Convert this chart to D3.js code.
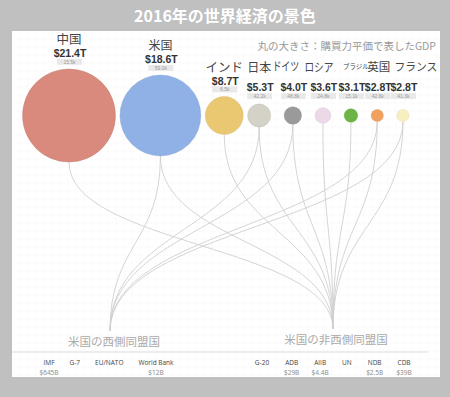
<!DOCTYPE html>
<html><head><meta charset="utf-8">
<script src="https://cdn.jsdelivr.net/npm/d3@7"></script>
<style>body{margin:0;background:#c0c0c0;}svg{display:block;}</style>
</head><body>
<script>
// ---- data ----
const countries = ["中国","米国","インド","日本","ドイツ","ロシア","ブラジル","英国","フランス"];
const gdpT = [21.4,18.6,8.7,5.3,4.0,3.6,3.1,2.8,2.8];
const perCapita = ["15.5k","59.0k","6.5k","42.2k","48.8k","24.8k","15.1k","42.6k","41.3k"];
const westernAlly = [false,true,false,true,true,false,false,true,true];
const nonWesternAlly = [true,true,true,true,true,true,true,true,true];
const groupLabels = ["米国の西側同盟国","米国の非西側同盟国"];
const westOrgs = ["IMF","G-7","EU/NATO","World Bank"];
const westOrgValues = ["$645B","","","$12B"];
const nonWestOrgs = ["G-20","ADB","AIIB","UN","NDB","CDB"];
const nonWestOrgValues = ["","$29B","$4.4B","","$2.5B","$39B"];
const colors = ["#d98a7d","#8fb1e6","#eac872","#d4d1c6","#9a9a9a","#edd8e8","#6cb544","#f2a05e","#f8efbf"];

// ---- styles (not data) ----
const nameStyle = {
  "中国":{size:12.5,dx:0}, "米国":{size:12,dx:0}, "インド":{size:12.5,dx:0},
  "日本":{size:12,dx:0}, "ドイツ":{size:12,dx:-7,len:27}, "ロシア":{size:12,dx:-4,len:29},
  "ブラジル":{size:6.5,dx:5}, "英国":{size:11.5,dx:1.5}, "フランス":{size:11.5,dx:13,len:43}
};
const W = 450, H = 397;
const JP = "'Noto Sans CJK JP','Noto Sans',sans-serif";
const LAT = "'Open Sans','Noto Sans',sans-serif";

const svg = d3.select("body").append("svg").attr("width",W).attr("height",H);
svg.append("rect").attr("width",W).attr("height",H).attr("fill","#c0c0c0");
svg.append("text").attr("x",225).attr("y",15).attr("text-anchor","middle")
  .attr("dominant-baseline","central").attr("fill","#fff")
  .style("font-family",JP).style("font-weight","bold").style("font-size","16px")
  .text("2016年の世界経済の景色");

// panel
const panel = {x:12,y:31,w:428,h:346};
svg.append("rect").attr("x",panel.x).attr("y",panel.y).attr("width",panel.w).attr("height",panel.h).attr("fill","#fff");
const grid = svg.append("g").attr("stroke","#f7f7f7").attr("stroke-width",0.5);
d3.range(panel.x+8, panel.x+panel.w, 8).forEach(x=>grid.append("line").attr("x1",x).attr("x2",x).attr("y1",panel.y).attr("y2",panel.y+panel.h));
d3.range(panel.y+8, panel.y+panel.h, 8).forEach(y=>grid.append("line").attr("y1",y).attr("y2",y).attr("x1",panel.x).attr("x2",panel.x+panel.w));

svg.append("text").attr("x",436).attr("y",45).attr("text-anchor","end").attr("dominant-baseline","central")
  .attr("fill","#999").style("font-family",JP).style("font-size","10.5px")
  .text("丸の大きさ：購買力平価で表したGDP");

// layout
const r = d3.scaleLinear().domain([0, d3.max(gdpT)]).range([0, 46.5]);
const cy = 115.5;
const nodes = countries.map((c,i)=>({name:c, gdp:gdpT[i], pc:perCapita[i], color:colors[i], west:westernAlly[i], nonwest:nonWesternAlly[i], r:r(gdpT[i])}));
nodes.forEach((d,i)=>{
  if(i===0) d.x = 22.5 + d.r;
  else { const p = nodes[i-1]; d.x = p.x + p.r + d.r + (d.r < 10 ? 13.5 : 4.5); }
});

const hubs = [{x:110,y:331},{x:333,y:329}];
const link = d3.linkVertical().x(d=>d.x).y(d=>d.y);
const links = [];
nodes.forEach(d=>{
  if(d.west) links.push({source:{x:d.x,y:cy+d.r}, target:hubs[0]});
  if(d.nonwest) links.push({source:{x:d.x,y:cy+d.r}, target:hubs[1]});
});
svg.append("g").selectAll("path").data(links).join("path")
  .attr("d",link).attr("fill","none").attr("stroke","#cfcfcf").attr("stroke-width",0.9);

svg.append("g").selectAll("circle").data(nodes).join("circle")
  .attr("cx",d=>d.x).attr("cy",cy).attr("r",d=>d.r).attr("fill",d=>d.color)
  .attr("stroke",d=>d3.color(d.color).darker(0.3)).attr("stroke-width",0.4);

// labels
const lab = svg.append("g").selectAll("g").data(nodes).join("g");
nodes.forEach(d=>{ d.vy = Math.min(cy - d.r - 16, 87.3); d.ny = Math.min(d.vy - 14.5, 66); });
lab.append("text")
  .attr("text-anchor","middle").attr("dominant-baseline","central")
  .attr("fill","#444").style("font-family",JP).style("font-size",d=>nameStyle[d.name].size+"px")
  .text(d=>d.name)
  .each(function(d){
    const st = nameStyle[d.name];
    const w = this.getComputedTextLength();
    const sx = st.len ? st.len / w : 1;
    d3.select(this).attr("transform",`translate(${d.x + st.dx},${d.ny}) scale(${sx},1)`);
  });
lab.append("text").attr("x",d=>d.x + 1).attr("y",d=>d.vy)
  .attr("text-anchor","middle").attr("dominant-baseline","central")
  .attr("fill","#333").style("font-family","'Liberation Sans',Arial,sans-serif").style("font-weight","bold").style("font-size","10.5px")
  .text(d=>"$"+d3.format(".1f")(d.gdp)+"T");
lab.append("rect").attr("x",d=>d.x-12).attr("y",d=>d.vy+5.8).attr("width",25).attr("height",6).attr("fill","#e9e9e9");
lab.append("text").attr("x",d=>d.x+0.5).attr("y",d=>d.vy+8.9)
  .attr("text-anchor","middle").attr("dominant-baseline","central")
  .attr("fill","#999").style("font-family","'Liberation Sans',Arial,sans-serif").style("font-size","5px")
  .text(d=>d.pc);

// group labels
svg.append("text").attr("x",114).attr("y",341).attr("text-anchor","middle").attr("dominant-baseline","central")
  .attr("fill","#aaa").style("font-family",JP).style("font-size","11.5px").text(groupLabels[0]);
svg.append("text").attr("x",336).attr("y",338.5).attr("text-anchor","middle").attr("dominant-baseline","central")
  .attr("fill","#aaa").style("font-family",JP).style("font-size","11.5px").text(groupLabels[1]);

svg.append("line").attr("x1",12).attr("x2",428).attr("y1",352).attr("y2",352).attr("stroke","#ddd").attr("stroke-width",1);

// organisations: flow layout from a start centre with a constant gap between labels
function orgs(names, vals, startX, gapPx){
  const g = svg.append("g");
  let prevRight = null;
  names.forEach((n,i)=>{
    const t = g.append("text").attr("y",362).attr("text-anchor","middle").attr("dominant-baseline","central")
      .attr("fill","#444").style("font-family",LAT).style("font-size","6.5px").text(n);
    const w = t.node().getComputedTextLength();
    const cx = prevRight === null ? startX : prevRight + gapPx + w/2;
    t.attr("x",cx);
    prevRight = cx + w/2;
    g.append("text").attr("x",cx).attr("y",372).attr("text-anchor","middle").attr("dominant-baseline","central")
      .attr("fill","#888").style("font-family",LAT).style("font-size","6.5px").text(vals[i]);
  });
}
orgs(westOrgs, westOrgValues, 49, 15);
orgs(nonWestOrgs, nonWestOrgValues, 262, 16);
</script>
</body></html>
